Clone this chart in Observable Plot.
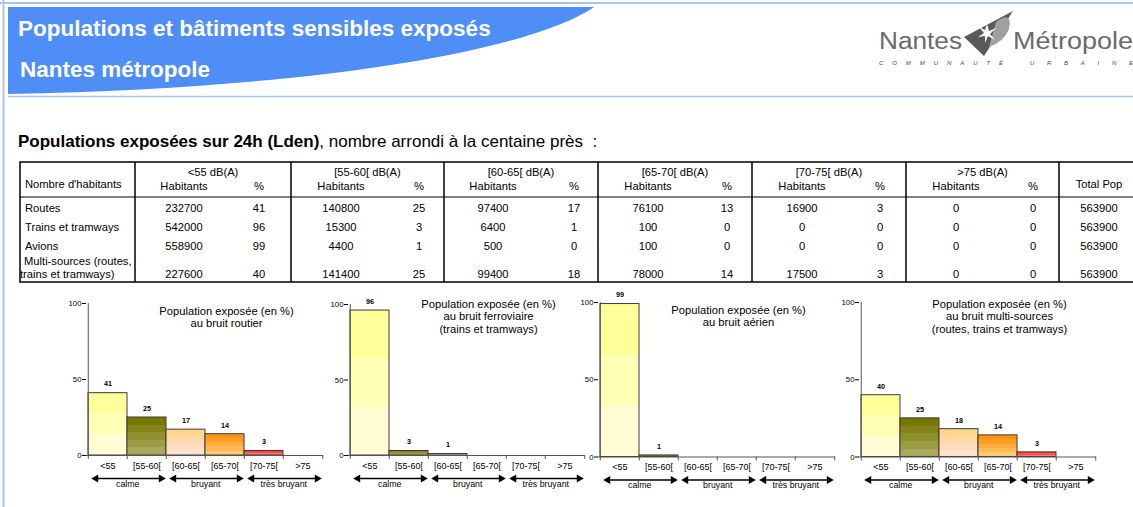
<!DOCTYPE html>
<html><head><meta charset="utf-8">
<script src="https://cdn.jsdelivr.net/npm/d3@7"></script>
<script src="https://cdn.jsdelivr.net/npm/@observablehq/plot@0.6"></script>
<style>
html,body{margin:0;padding:0;width:1133px;height:507px;overflow:hidden;background:#fff;font-family:"Liberation Sans",Arial,sans-serif;}
#page{position:relative;width:1133px;height:507px;overflow:hidden;}
.t{position:absolute;white-space:nowrap;font-size:11.2px;line-height:13px;color:#000;}
.c{transform:translateX(-50%);text-align:center;}
</style></head><body><div id="page"></div>
<script>
// ---------- data ----------
const bands = ["<55","[55-60[","[60-65[","[65-70[","[70-75[",">75"];
const bandHeaders = ["<55 dB(A)","[55-60[ dB(A)","[60-65[ dB(A)","[65-70[ dB(A)","[70-75[ dB(A)",">75 dB(A)"];
const sources = ["Routes","Trains et tramways","Avions","Multi-sources (routes,\ntrains et tramways)"];
// table values
const habRoutes = [232700,140800,97400,76100,16900,0];
const pctRoutes = [41,25,17,13,3,0];
const habTrains = [542000,15300,6400,100,0,0];
const pctTrains = [96,3,1,0,0,0];
const habAvions = [558900,4400,500,100,0,0];
const pctAvions = [99,1,0,0,0,0];
const habMulti = [227600,141400,99400,78000,17500,0];
const pctMulti = [40,25,18,14,3,0];
const totalPop = [563900,563900,563900,563900];
// chart values (as labelled on the bar charts)
const chartRoutes = [41,25,17,14,3,0];
const chartTrains = [96,3,1,0,0,0];
const chartAvions = [99,1,0,0,0,0];
const chartMulti = [40,25,18,14,3,0];
const zones = ["calme","bruyant","très bruyant"];
const chartTitles = [
  "Population exposée (en %)\nau bruit routier",
  "Population exposée (en %)\nau bruit ferroviaire\n(trains et tramways)",
  "Population exposée (en %)\nau bruit aérien",
  "Population exposée (en %)\nau bruit multi-sources\n(routes, trains et tramways)"
];
const mainTitle = "Populations et bâtiments sensibles exposés";
const mainSubtitle = "Nantes métropole";
const tableTitleBold = "Populations exposées sur 24h (Lden)";
const tableTitleRest = ", nombre arrondi à la centaine près&nbsp; :";

// ---------- styling ----------
const FONT = '"Liberation Sans", Arial, sans-serif';
const gradColors = [
  ["#fffbd2","#ffffb6","#ffff9a"],
  ["#a9a95e","#9c9c45","#8f8f2e","#838317","#787800"],
  ["#fde3cc","#fddbbe","#ffd9a8","#ffd48c"],
  ["#ffcb74","#ffbb57","#ffac3e","#ff9d26","#ff9410"],
  ["#ff7474","#ff5050","#ff3636"],
  ["#cccccc"]
];
const page = document.getElementById("page");

// background decorations + table grid
const tableTop = 162, headBottom = 197, tableBottom = 282, tableLeft = 20, tableRight = 1140;
const colLines = [135,291,444,598,752,906,1059];
let stops = gradColors.map((cols,i)=>{
  const n = cols.length;
  const s = cols.map((c,k)=>`<stop offset="${k/n}" stop-color="${c}"/><stop offset="${(k+1)/n}" stop-color="${c}"/>`).join("");
  return `<linearGradient id="grad${i}" x1="0" y1="1" x2="0" y2="0">${s}</linearGradient>`;
}).join("");
const bg = `
<svg width="1133" height="507" style="position:absolute;left:0;top:0" xmlns="http://www.w3.org/2000/svg">
<defs>${stops}</defs>
<line x1="0" y1="3" x2="1133" y2="3" stroke="#a9c4ef" stroke-width="2"/>
<line x1="3.5" y1="0" x2="3.5" y2="507" stroke="#a9c4ef" stroke-width="2"/>
<path d="M8,7 L594,7 C535,48 330,88 8,94 Z" fill="#4f8ef6"/>
<line x1="8" y1="96.5" x2="1133" y2="96.5" stroke="#a9c4ef" stroke-width="1.5"/>
<text x="18" y="36" font-family='${FONT}' font-size="22.5" font-weight="bold" fill="#fff">${mainTitle}</text>
<text x="20" y="77" font-family='${FONT}' font-size="22.5" font-weight="bold" fill="#fff">${mainSubtitle}</text>
<text x="879" y="49" font-family='${FONT}' font-size="23" fill="#6a6a6a" textLength="83" lengthAdjust="spacingAndGlyphs">Nantes</text>
<text x="1013" y="49" font-family='${FONT}' font-size="23" fill="#6a6a6a" textLength="120" lengthAdjust="spacingAndGlyphs">Métropole</text>
<path d="M964,37 L1013,11 L984,56 Z" fill="#5a5a5a"/>
<path d="M996,22 Q1013,10 1009,29 Q1004,42 989,47 Z" fill="#a0a0a0"/>
<polygon points="987,24 989,31 996,28 990,34 995,40 988,36 985,43 985,36 978,37 984,33 979,27 985,30" fill="#fff"/>
<text x="879" y="65" font-family='${FONT}' font-size="6" font-style="italic" fill="#444" textLength="124" lengthAdjust="spacing">COMMUNAUTÉ</text>
<text x="1030" y="65" font-family='${FONT}' font-size="6" font-style="italic" fill="#444" textLength="103" lengthAdjust="spacing">URBAINE</text>
<rect x="${tableLeft}" y="${tableTop}" width="${tableRight-tableLeft}" height="${tableBottom-tableTop}" fill="none" stroke="#000" stroke-width="1.5"/>
${colLines.map(x=>`<line x1="${x}" y1="${tableTop}" x2="${x}" y2="${tableBottom}" stroke="#000" stroke-width="1.5"/>`).join("")}
<line x1="${tableLeft}" y1="${headBottom}" x2="${tableRight}" y2="${headBottom}" stroke="#000" stroke-width="1"/>
</svg>`;
page.insertAdjacentHTML("beforeend", bg);

function addText(txt, x, yc, center, extra){
  const d = document.createElement("div");
  d.className = "t" + (center ? " c" : "");
  d.style.left = x + "px";
  const lines = String(txt).split("\n").length;
  d.style.top = (yc - 6.5*lines) + "px";
  d.innerHTML = String(txt).replace(/\n/g,"<br>");
  if (extra) Object.assign(d.style, extra);
  page.appendChild(d);
  return d;
}
// table title
const tt = addText("", 18, 138, false, {fontSize:"17px", lineHeight:"19px"});
tt.innerHTML = `<b>${tableTitleBold}</b>${tableTitleRest}`;

// table contents
const habX = [184,341,493,648,802,956];
const pctX = [259,419,574,727,880,1033];
const groupX = colLines.slice(0,6).map((x,i)=>(x+colLines[i+1])/2);
const totalX = 1099;
addText("Nombre d'habitants", 25, 184, false);
addText("Total Pop", totalX, 184, true);
bandHeaders.forEach((h,i)=>{
  addText(h, groupX[i], 172, true);
  addText("Habitants", habX[i], 186, true);
  addText("%", pctX[i], 186, true);
});
const habRows = [habRoutes, habTrains, habAvions, habMulti];
const pctRows = [pctRoutes, pctTrains, pctAvions, pctMulti];
const rowY = [208, 227, 246, 274];
sources.forEach((s,r)=>{
  if (r < 3) addText(s, 25, rowY[r], false);
  else {
    const [a,b] = s.split("\n");
    addText(a, 24, 261, false);
    addText(b, 20, 274, false);
  }
  habRows[r].forEach((v,i)=>addText(String(v), habX[i], rowY[r], true));
  pctRows[r].forEach((v,i)=>addText(String(v), pctX[i], rowY[r], true));
  addText(String(totalPop[r]), totalX, rowY[r], true);
});

// ---------- charts ----------
const bw = 39.5;
function drawChart(pcts, title, x0, y100, y0, titleDy){
  const ml = 40, mr = 30, mt = 14, mb = 48;
  const h = y0 - y100;
  const width = ml + 6*bw + mr;
  const height = mt + h + mb;
  const rows = bands.map((b,i)=>({band:b, pct:pcts[i], i}));
  const shown = rows.filter(d=>d.pct>0);
  const groups = zones.map((z,g)=>({zone:z, from:bands[2*g], to:bands[2*g+1]}));
  const svg = Plot.plot({
    width, height, marginLeft: ml, marginRight: mr, marginTop: mt, marginBottom: mb,
    style: {background:"transparent", overflow:"visible", fontFamily: FONT, fontSize:"8.5px", color:"#000"},
    x: {type:"band", domain: bands, padding: 0, label: null},
    y: {domain:[0,100], label: null},
    marks: [
      ...shown.map(d=>Plot.barY([d], {x:"band", y:"pct", fill:`url(#grad${d.i})`, stroke:"#3a3a3a", strokeWidth:1})),
      Plot.ruleY([0], {stroke:"#555"}),
      Plot.ruleX([bands[0]], {dx:-bw/2, stroke:"#555"}),
      Plot.ruleX(bands, {x:d=>d, y1:0, y2:0, dx:-bw/2, insetBottom:-4, stroke:"#555"}),
      Plot.ruleX([bands[5]], {x:d=>d, y1:0, y2:0, dx:bw/2, insetBottom:-4, stroke:"#555"}),
      Plot.axisY({ticks:[0,50,100], tickSize:4, tickPadding:1, fontSize:7.8, label:null}),
      Plot.axisX({tickSize:0, tickPadding:7, fontSize:9, label:null}),
      Plot.text(shown, {x:"band", y:"pct", text:d=>String(d.pct), dy:-9, fontWeight:"bold", fontSize:7.2}),
      Plot.ruleY(groups, {x1:"from", x2:"to", y:0, dy:23, insetLeft:6, insetRight:4, stroke:"#000", strokeWidth:1.4}),
      Plot.dot(groups, {x:"from", y:0, dx:-bw/2+3+4.6, dy:23, symbol:"triangle", rotate:-90, r:3, fill:"#000", stroke:"none"}),
      Plot.dot(groups, {x:"to", y:0, dx:bw/2-1-4.6, dy:23, symbol:"triangle", rotate:90, r:3, fill:"#000", stroke:"none"}),
      Plot.text(groups, {x:"from", y:0, text:"zone", dx:bw/2, dy:28.5, fontSize:8.8}),
      Plot.text([title], {frameAnchor:"top-left", text:d=>d, dx:140, dy:titleDy, textAnchor:"middle", lineAnchor:"top", fontSize:11.2, lineHeight:1.13})
    ]
  });
  svg.style.position = "absolute";
  svg.style.left = (x0 - ml) + "px";
  svg.style.top = (y100 - mt) + "px";
  page.appendChild(svg);
}
drawChart(chartRoutes, chartTitles[0], 85.5, 302.5, 454.5, 2);
drawChart(chartTrains, chartTitles[1], 347.5, 304, 455, -6);
drawChart(chartAvions, chartTitles[2], 597.5, 302, 456.5, 2);
drawChart(chartMulti,  chartTitles[3], 859, 302, 456.5, -4);
</script></body></html>
